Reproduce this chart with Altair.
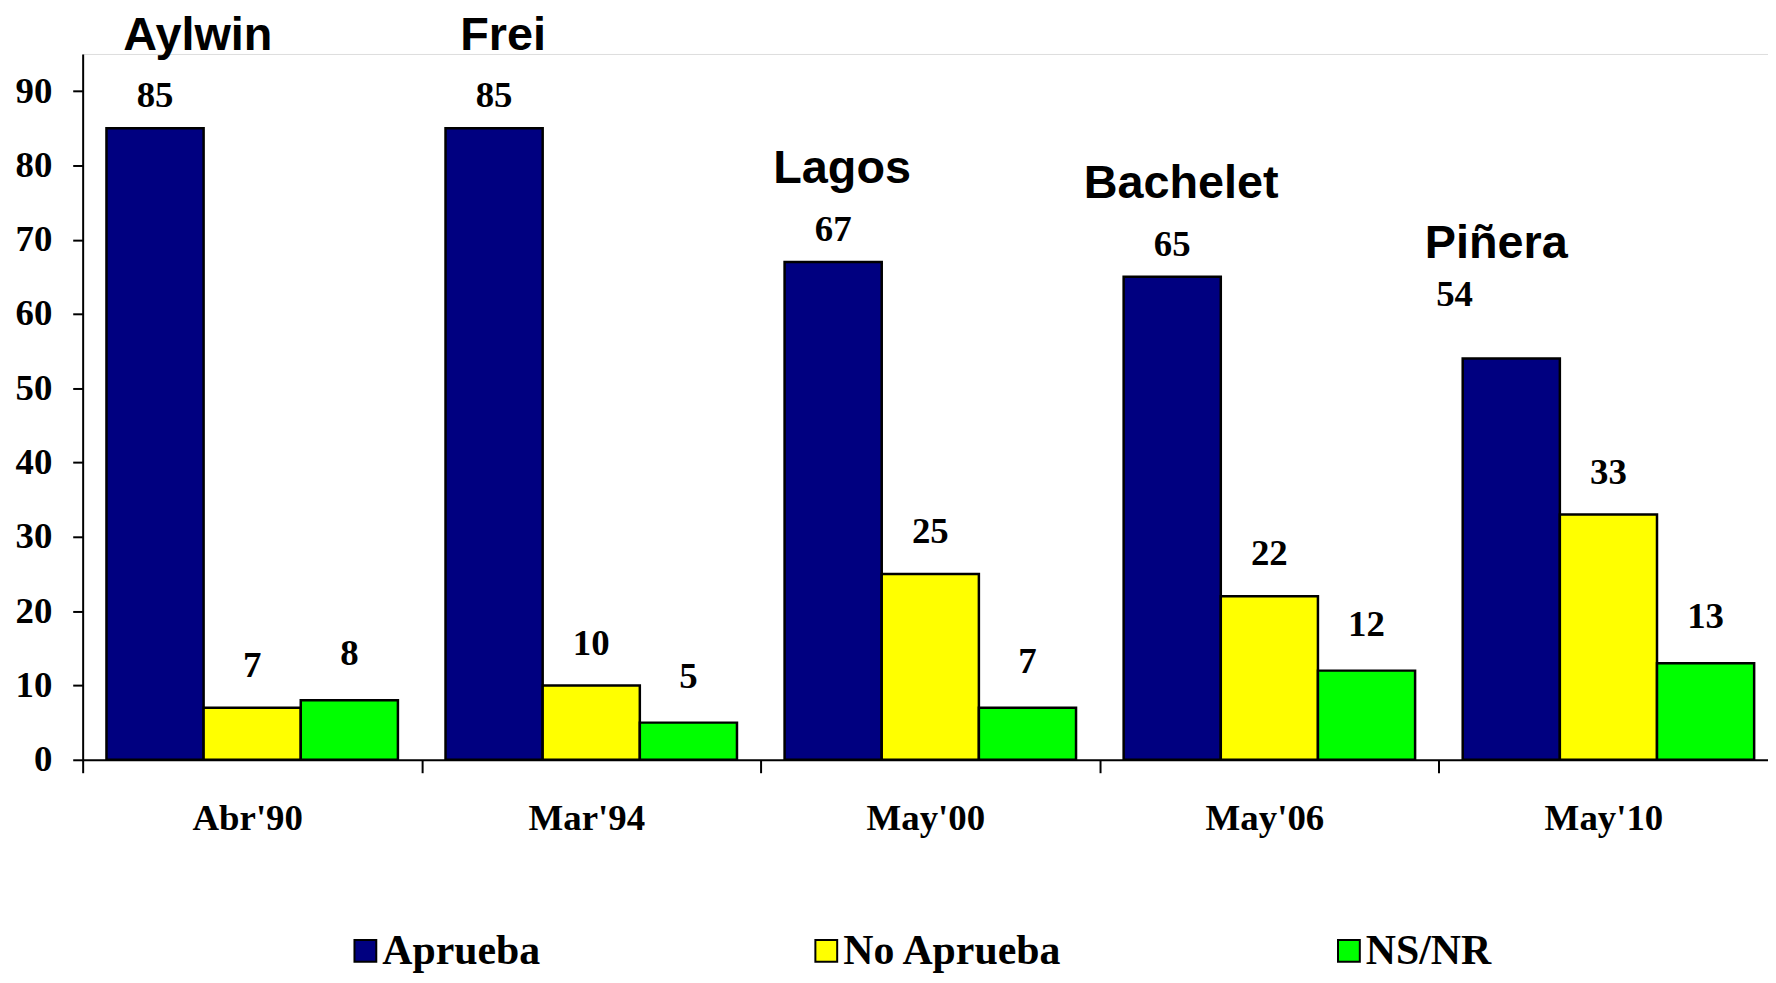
import altair as alt
import pandas as pd

periods = ["Abr'90", "Mar'94", "May'00", "May'06", "May'10"]
presidents = ["Aylwin", "Frei", "Lagos", "Bachelet", "Piñera"]
series = ["Aprueba", "No Aprueba", "NS/NR"]
aprueba = [85, 85, 67, 65, 54]
no_aprueba = [7, 10, 25, 22, 33]
ns_nr = [8, 5, 7, 12, 13]
colors = ["#000080", "#FFFF00", "#00FF00"]
y_ticks = [0, 10, 20, 30, 40, 50, 60, 70, 80, 90]

rows = []
for i, p in enumerate(periods):
    for s, vals in zip(series, [aprueba, no_aprueba, ns_nr]):
        rows.append({
            "period": p,
            "serie": s,
            "valor": vals[i],
            "presidente": presidents[i] if s == "Aprueba" else "",
        })
df = pd.DataFrame(rows)

SERIF = "Liberation Serif"
SANS = "Liberation Sans"

x_enc = alt.X(
    "period:N", sort=periods, title=None,
    scale=alt.Scale(paddingInner=0, paddingOuter=0, range=[0, 1703]),
    axis=alt.Axis(labelAngle=0, tickBand="extent", tickSize=13, labelPadding=28,
                  labelFontSize=37, labelFont=SERIF, labelFontWeight="bold",
                  labelColor="black", domainColor="black", domainWidth=2,
                  tickColor="black", tickWidth=2, labelOffset=-5),
)
y_enc = alt.Y(
    "valor:Q", title=None,
    scale=alt.Scale(domain=[0, 95], nice=False),
    axis=alt.Axis(values=y_ticks, grid=False, tickSize=10, labelPadding=21,
                  labelFontSize=37, labelFont=SERIF, labelFontWeight="bold",
                  labelColor="black", domainColor="black", domainWidth=2,
                  tickColor="black", tickWidth=2),
)
xoff = alt.XOffset("serie:N", sort=series,
                   scale=alt.Scale(paddingInner=0, paddingOuter=0.245))

base = alt.Chart(df).encode(x=x_enc, y=y_enc, xOffset=xoff)

bars = base.mark_bar(stroke="black", strokeWidth=2.5).encode(
    color=alt.Color(
        "serie:N", sort=series,
        scale=alt.Scale(domain=series, range=colors),
        legend=alt.Legend(
            title=None, orient="none", direction="horizontal",
            legendX=263, legendY=880,
            symbolType="square", symbolSize=480, symbolStrokeColor="black",
            symbolStrokeWidth=2, symbolOpacity=1,
            labelFont=SERIF, labelFontWeight="bold", labelFontSize=42,
            labelColor="black", labelOffset={"expr": "-4"}, columnPadding=266,
            labelLimit=600,
        ),
    )
)

def value_layer(cond, dy, dx=0):
    return base.transform_filter(cond).mark_text(
        font=SERIF, fontWeight="bold", fontSize=37, color="black",
        baseline="alphabetic", dy=dy, dx=dx,
    ).encode(text="valor:Q")

lab_apr = value_layer("datum.serie == 'Aprueba' && datum.period != \"May'10\"", -21)
lab_apr_sp = value_layer("datum.serie == 'Aprueba' && datum.period == \"May'10\"", -53, -57)
lab_no = value_layer("datum.serie == 'No Aprueba'", -31)
lab_ns = value_layer("datum.serie == 'NS/NR'", -35)

def name_layer(cond, dy, dx=0):
    return base.transform_filter(cond).mark_text(
        font=SANS, fontWeight="bold", fontSize=47, color="black",
        baseline="middle", dy=dy, dx=dx,
    ).encode(text="presidente:N")

names_main = name_layer("datum.presidente != '' && datum.period != \"Abr'90\" && datum.period != \"May'10\"", -93, 9)
names_ayl = name_layer("datum.presidente != '' && datum.period == \"Abr'90\"", -93, 43)
names_pin = name_layer("datum.presidente != '' && datum.period == \"May'10\"", -115, -15)

chart = alt.layer(bars, lab_apr, lab_apr_sp, lab_no, lab_ns,
                  names_main, names_ayl, names_pin).properties(
    width=1693, height=709,
    padding={"left": 75, "top": 44, "right": 0, "bottom": 212},
    autosize=alt.AutoSizeParams(type="none"),
).configure_view(stroke=None).configure(background="white")

chart.save("out.html", embed_options={"renderer": "svg", "actions": False})
